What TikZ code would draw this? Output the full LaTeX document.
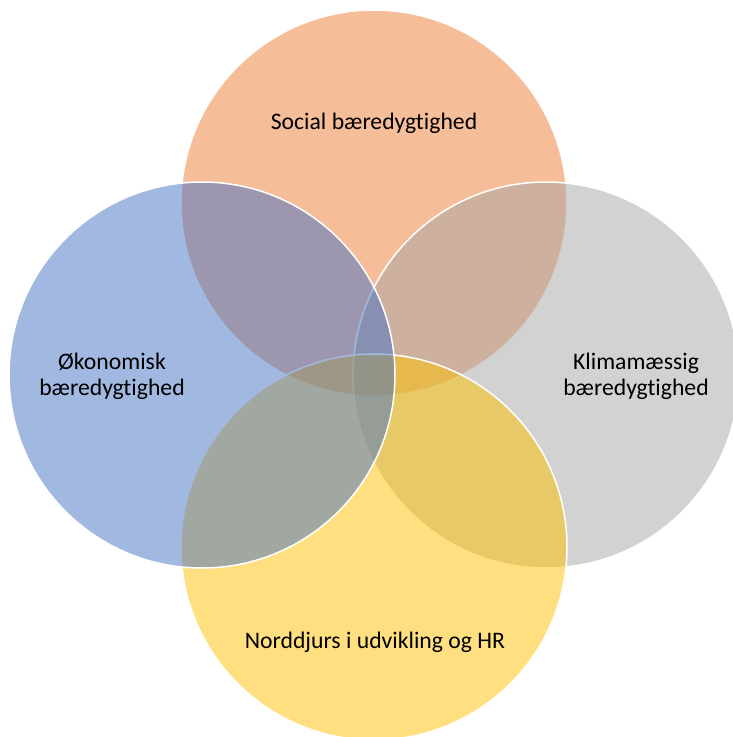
\documentclass[tikz,border=0pt]{standalone}
\usepackage{fontspec}
\setmainfont{Carlito}[Ligatures = NoCommon]
\usetikzlibrary{positioning}

\definecolor{accentblue}{HTML}{4472C4}
\definecolor{accentorange}{HTML}{ED7D31}
\definecolor{accentgray}{HTML}{A5A5A5}
\definecolor{accentgold}{HTML}{FFC000}

\begin{document}
\begin{tikzpicture}[x = 1pt, y = -1pt,
	venn/.style = {circle, inner sep = 0pt, minimum size = 386pt, draw = white, line width = 1.5pt, fill opacity = 0.5, draw opacity = 1},
	venntext/.style = {font = \fontsize{23.7}{26}\selectfont, align = center, text = black}]

	% Definitions

	\def\Cx{374}	% Centre of the diagram
	\def\Cy{375}
	\def\D{172}		% Distance of each circle from the centre

	\useasboundingbox (0, 0) rectangle (732, 737);

	% Circles, in the order they overlap

	\node [venn, fill = accentorange] (social) at (\Cx, \Cy - \D) {};
	\node [venn, fill = accentgray] (klima) at (\Cx + \D, \Cy) {};
	\node [venn, fill = accentgold] (norddjurs) at (\Cx, \Cy + \D) {};
	\node [venn, fill = accentblue] (okonomi) at (\Cx - \D, \Cy) {};

	% Labels

	\node [venntext] (socialtext) at (374, 123) {Social bæredygtighed};
	\node [venntext] (klimatext) at (636, 376) {Klimamæssig\\bæredygtighed};
	\node [venntext] (norddjurstext) at (375, 642) {Norddjurs i udvikling og HR};
	\node [venntext] (okonomitext) at (112, 376) {Økonomisk\\bæredygtighed};

\end{tikzpicture}
\end{document}
